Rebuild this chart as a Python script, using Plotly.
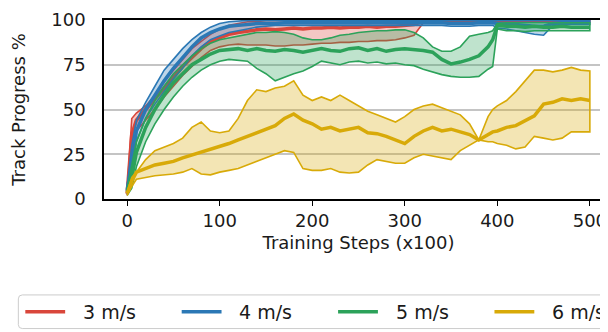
import plotly.graph_objects as go

# ---------------- data ----------------
steps = [0, 5, 10, 20, 30, 40, 50, 60, 70, 80, 90, 100, 110, 120, 130, 140, 150,
         160, 170, 180, 190, 200, 210, 220, 230, 240, 250, 260, 270, 280, 290, 300,
         310, 320, 330, 340, 350, 360, 370, 380, 390, 395, 400, 410, 420, 430, 440,
         450, 460, 470, 480, 490, 500]

series_names = ["3 m/s", "4 m/s", "5 m/s", "6 m/s"]

red_mean = [3, 36, 44, 50, 56, 62, 68, 74, 79, 84, 88, 90, 92, 93, 94, 94.5, 95, 94.5,
            95, 95.5, 95, 95.5, 95.5, 96, 95.5, 96, 96, 96.5, 96, 96.5, 96.5, 97, 97.5,
            99.5, 99.5, 99.5, 99.5, 99.5, 99.5, 99.5, 99.5, 99.5, 99.5, 99.5, 99.5, 99.5,
            99.5, 99.5, 99.5, 99.5, 99.5, 99.5, 99.5]
red_upper = [4, 45, 48, 52, 58, 66, 72, 78, 84, 88, 92, 95, 97, 98, 99, 99,
             99.8, 99.8, 99.8, 99.8, 99.8, 99.8, 99.8, 99.8, 99.8, 99.8, 99.8, 99.8,
             99.8, 99.8, 99.8, 99.8, 99.8, 99.8, 99.8, 99.8, 99.8, 99.8, 99.8, 99.8,
             99.8, 99.8, 99.8, 99.8, 99.8, 99.8, 99.8, 99.8, 99.8, 99.8, 99.8, 99.8, 99.8]
red_lower = [2, 28, 38, 44, 50, 57, 63, 69, 74, 79, 83, 85, 86, 86.5, 86, 86, 86, 85.5,
             85.5, 86, 86, 86.5, 87, 87, 87.5, 87.5, 88, 88, 88.5, 88.5, 89, 90, 91.5,
             98.5, 99, 99, 99, 99, 99, 99, 99, 99, 99, 99, 99, 99, 99, 99, 99, 99, 99, 99, 99]

blue_mean = [5, 20, 38, 50, 58, 66, 73, 79, 85, 90, 93, 95, 96.5, 97, 97.5, 98, 98, 98,
             98.5, 98.5, 98.5, 98.5, 98.5, 98.5, 98.5, 98.5, 98.5, 98.5, 98.5, 98.5, 98.5,
             98.5, 98.5, 98.5, 98.5, 98.5, 98, 98, 98, 98.5, 98.5, 98.5, 98, 97.5, 97.5,
             97, 96.5, 96.5, 98, 98.5, 98.5, 98.5, 98.5]
blue_upper = [7, 30, 44, 54, 63, 72, 78, 84, 89, 93, 96, 98, 99, 99.5,
              99.8, 99.8, 99.8, 99.8, 99.8, 99.8, 99.8, 99.8, 99.8, 99.8, 99.8, 99.8,
              99.8, 99.8, 99.8, 99.8, 99.8, 99.8, 99.8, 99.8, 99.8, 99.8, 99.8, 99.8,
              99.8, 99.8, 99.8, 99.8, 99.8, 99.8, 99.8, 99.8, 99.8, 99.8, 99.8, 99.8,
              99.8, 99.8, 99.8]
blue_lower = [3, 12, 32, 45, 53, 60, 67, 73, 80, 85, 89, 91, 93, 94, 95, 96, 96.5,
              97, 97, 97, 97, 97, 97, 97, 97, 97, 97, 97, 97, 97, 97, 97, 97, 97, 97, 97,
              96.5, 96.5, 96.5, 97, 97, 97, 95.5, 95, 94, 93, 92, 91.5, 97, 97.5, 97.5,
              97.5, 97.5]

green_mean = [4, 12, 26, 40, 50, 58, 65, 70, 75, 78, 81, 83, 83.5, 84, 83, 84, 83, 82.5,
              83.5, 83, 82, 83, 84, 83, 82.5, 84, 84.5, 83, 84, 82.5, 83.5, 84, 83.5, 83,
              82, 78, 75.5, 76.5, 78, 80, 85, 89, 97, 96.5, 96.5, 96, 96.5, 96, 96, 96.5,
              96, 96, 96]
green_upper = [6, 18, 32, 45, 55, 63, 70, 75, 80, 84, 87, 89, 90, 91, 92, 93, 93, 93.5,
               93, 92, 90, 89, 89, 90, 91.5, 92, 93, 93.5, 94, 94, 94.5, 94.5, 93, 90, 85,
               82.5, 82.5, 85, 91, 92, 93, 94, 98, 98.5, 98.5, 98.5, 98.5, 98.5, 98.5,
               98.5, 98.5, 98.5, 98.5]
green_lower = [2, 6, 18, 32, 42, 50, 57, 63, 68, 72, 75, 77, 78, 77.5, 77, 73, 70, 66,
               68, 70, 71.5, 74, 77, 76, 75, 76.5, 77, 76, 76.5, 75.5, 76, 75, 74.5, 72.5,
               71, 69.5, 68.5, 68, 68, 68.5, 72.5, 74, 95, 94, 94, 93.5, 94, 94, 94, 94,
               94, 94, 94]

yellow_mean = [3, 10, 15, 17, 19, 20, 21, 23, 24.5, 26, 28, 29, 31, 33, 35, 37, 39, 41,
               45, 47.5, 44, 42, 39, 40, 38, 39, 40, 37, 36.5, 35, 33, 31, 35, 38, 40, 38,
               39, 37.5, 36, 33, 36, 37.5, 38, 40, 41, 44, 46.5, 53, 54, 56, 55, 56, 55]
yellow_upper = [4, 12, 15, 22, 27, 29, 31, 34, 40, 43, 38, 37, 38, 45, 55, 61, 60, 62,
                63, 66, 58, 55, 57, 55, 58, 55, 52, 49, 47, 45, 43, 46, 50, 52, 53, 51,
                49, 47, 42, 33, 46, 50, 52, 55, 60, 66, 72, 72, 71, 72, 73.5, 72, 71.5]
yellow_lower = [2, 7, 11, 12, 13, 13.5, 14, 15, 17, 14, 13.5, 15, 16, 17, 19, 21, 23,
                25, 27, 26, 17, 16, 16, 17, 15, 14.5, 15, 19, 22, 21, 20, 20, 23, 25, 24,
                23, 22, 27, 30, 33, 32, 32, 31, 30, 28, 29, 35, 34, 33, 34, 37.5, 37.5, 37.5]

x_tick_values = [0, 100, 200, 300, 400, 500]
y_tick_values = [0, 25, 50, 75, 100]

# ---------------- styling ----------------
colors = ["#d9463b", "#2b78b5", "#2ca25a", "#d8aa08"]
fills = ["rgba(217,70,59,0.3)", "rgba(43,120,181,0.3)",
         "rgba(44,162,90,0.3)", "rgba(216,170,8,0.3)"]
FONT = "DejaVu Sans"
TXT = "#1a1a1a"

W, H = 608, 332
ML, MR, MT, MB = 96, 1, 10, 141
PW, PH = W - ML - MR, H - MT - MB


def px(xp):
    return (xp - ML) / PW


def py(yp):
    return (MT + PH - yp) / PH


data = [
    (red_mean, red_upper, red_lower),
    (blue_mean, blue_upper, blue_lower),
    (green_mean, green_upper, green_lower),
    (yellow_mean, yellow_upper, yellow_lower),
]

fig = go.Figure()
for i, (m, up, lo) in enumerate(data):
    assert len(m) == len(up) == len(lo) == len(steps)
    fig.add_trace(go.Scatter(
        x=steps + steps[::-1], y=up + lo[::-1], mode="lines", fill="toself",
        fillcolor=fills[i], line=dict(color=colors[i], width=1.6),
        showlegend=False, hoverinfo="skip"))
    fig.add_trace(go.Scatter(
        x=steps, y=m, mode="lines", name=series_names[i],
        line=dict(color=colors[i], width=3.5), showlegend=False))

fig.update_layout(
    width=W, height=H,
    margin=dict(l=ML, r=MR, t=MT, b=MB),
    paper_bgcolor="white", plot_bgcolor="white",
    font=dict(family=FONT, size=18, color=TXT),
)
fig.update_xaxes(
    range=[-25, 525], tickvals=x_tick_values, showgrid=False, zeroline=False,
    ticks="outside", ticklen=5, tickwidth=1.3, tickcolor="black",
    showline=True, linecolor="black", linewidth=1.5, mirror=True,
    ticklabeloverflow="allow",
    tickfont=dict(size=18, family=FONT, color=TXT),
    title=dict(text="Training Steps (x100)", font=dict(size=18, family=FONT, color=TXT),
               standoff=6),
)
fig.update_yaxes(
    range=[0, 100], tickvals=y_tick_values, showgrid=True, gridcolor="#c4c4c4",
    gridwidth=1.5, zeroline=False, ticks="", ticklabelstandoff=13,
    ticklabeloverflow="allow",
    showline=True, linecolor="black", linewidth=1.5, mirror=True,
    tickfont=dict(size=18, family=FONT, color=TXT),
    title=dict(text="Track Progress %", font=dict(size=18, family=FONT, color=TXT),
               standoff=28),
)

# ---------------- legend (drawn below the axes, as in the reference) ----------------
top, bot, left, right, r = 288, 322, 10, 620, 4
path = (f"M {px(left + r)},{py(top)} L {px(right - r)},{py(top)} "
        f"Q {px(right)},{py(top)} {px(right)},{py(top + r)} "
        f"L {px(right)},{py(bot - r)} Q {px(right)},{py(bot)} {px(right - r)},{py(bot)} "
        f"L {px(left + r)},{py(bot)} Q {px(left)},{py(bot)} {px(left)},{py(bot - r)} "
        f"L {px(left)},{py(top + r)} Q {px(left)},{py(top)} {px(left + r)},{py(top)} Z")
fig.add_shape(type="path", path=path, xref="paper", yref="paper",
              line=dict(color="#cccccc", width=1), fillcolor="rgba(255,255,255,0.8)",
              layer="above")
line_x0 = [17, 174, 331, 488]
ly = 305
for i, name in enumerate(series_names):
    fig.add_shape(type="line", xref="paper", yref="paper",
                  x0=px(line_x0[i]), x1=px(line_x0[i] + 40), y0=py(ly), y1=py(ly),
                  line=dict(color=colors[i], width=3.5))
    fig.add_annotation(text=name, xref="paper", yref="paper", x=px(line_x0[i] + 56),
                       y=py(ly), xanchor="left", yanchor="middle", showarrow=False,
                       font=dict(size=19, family=FONT, color=TXT))

fig.write_html("out.html")
